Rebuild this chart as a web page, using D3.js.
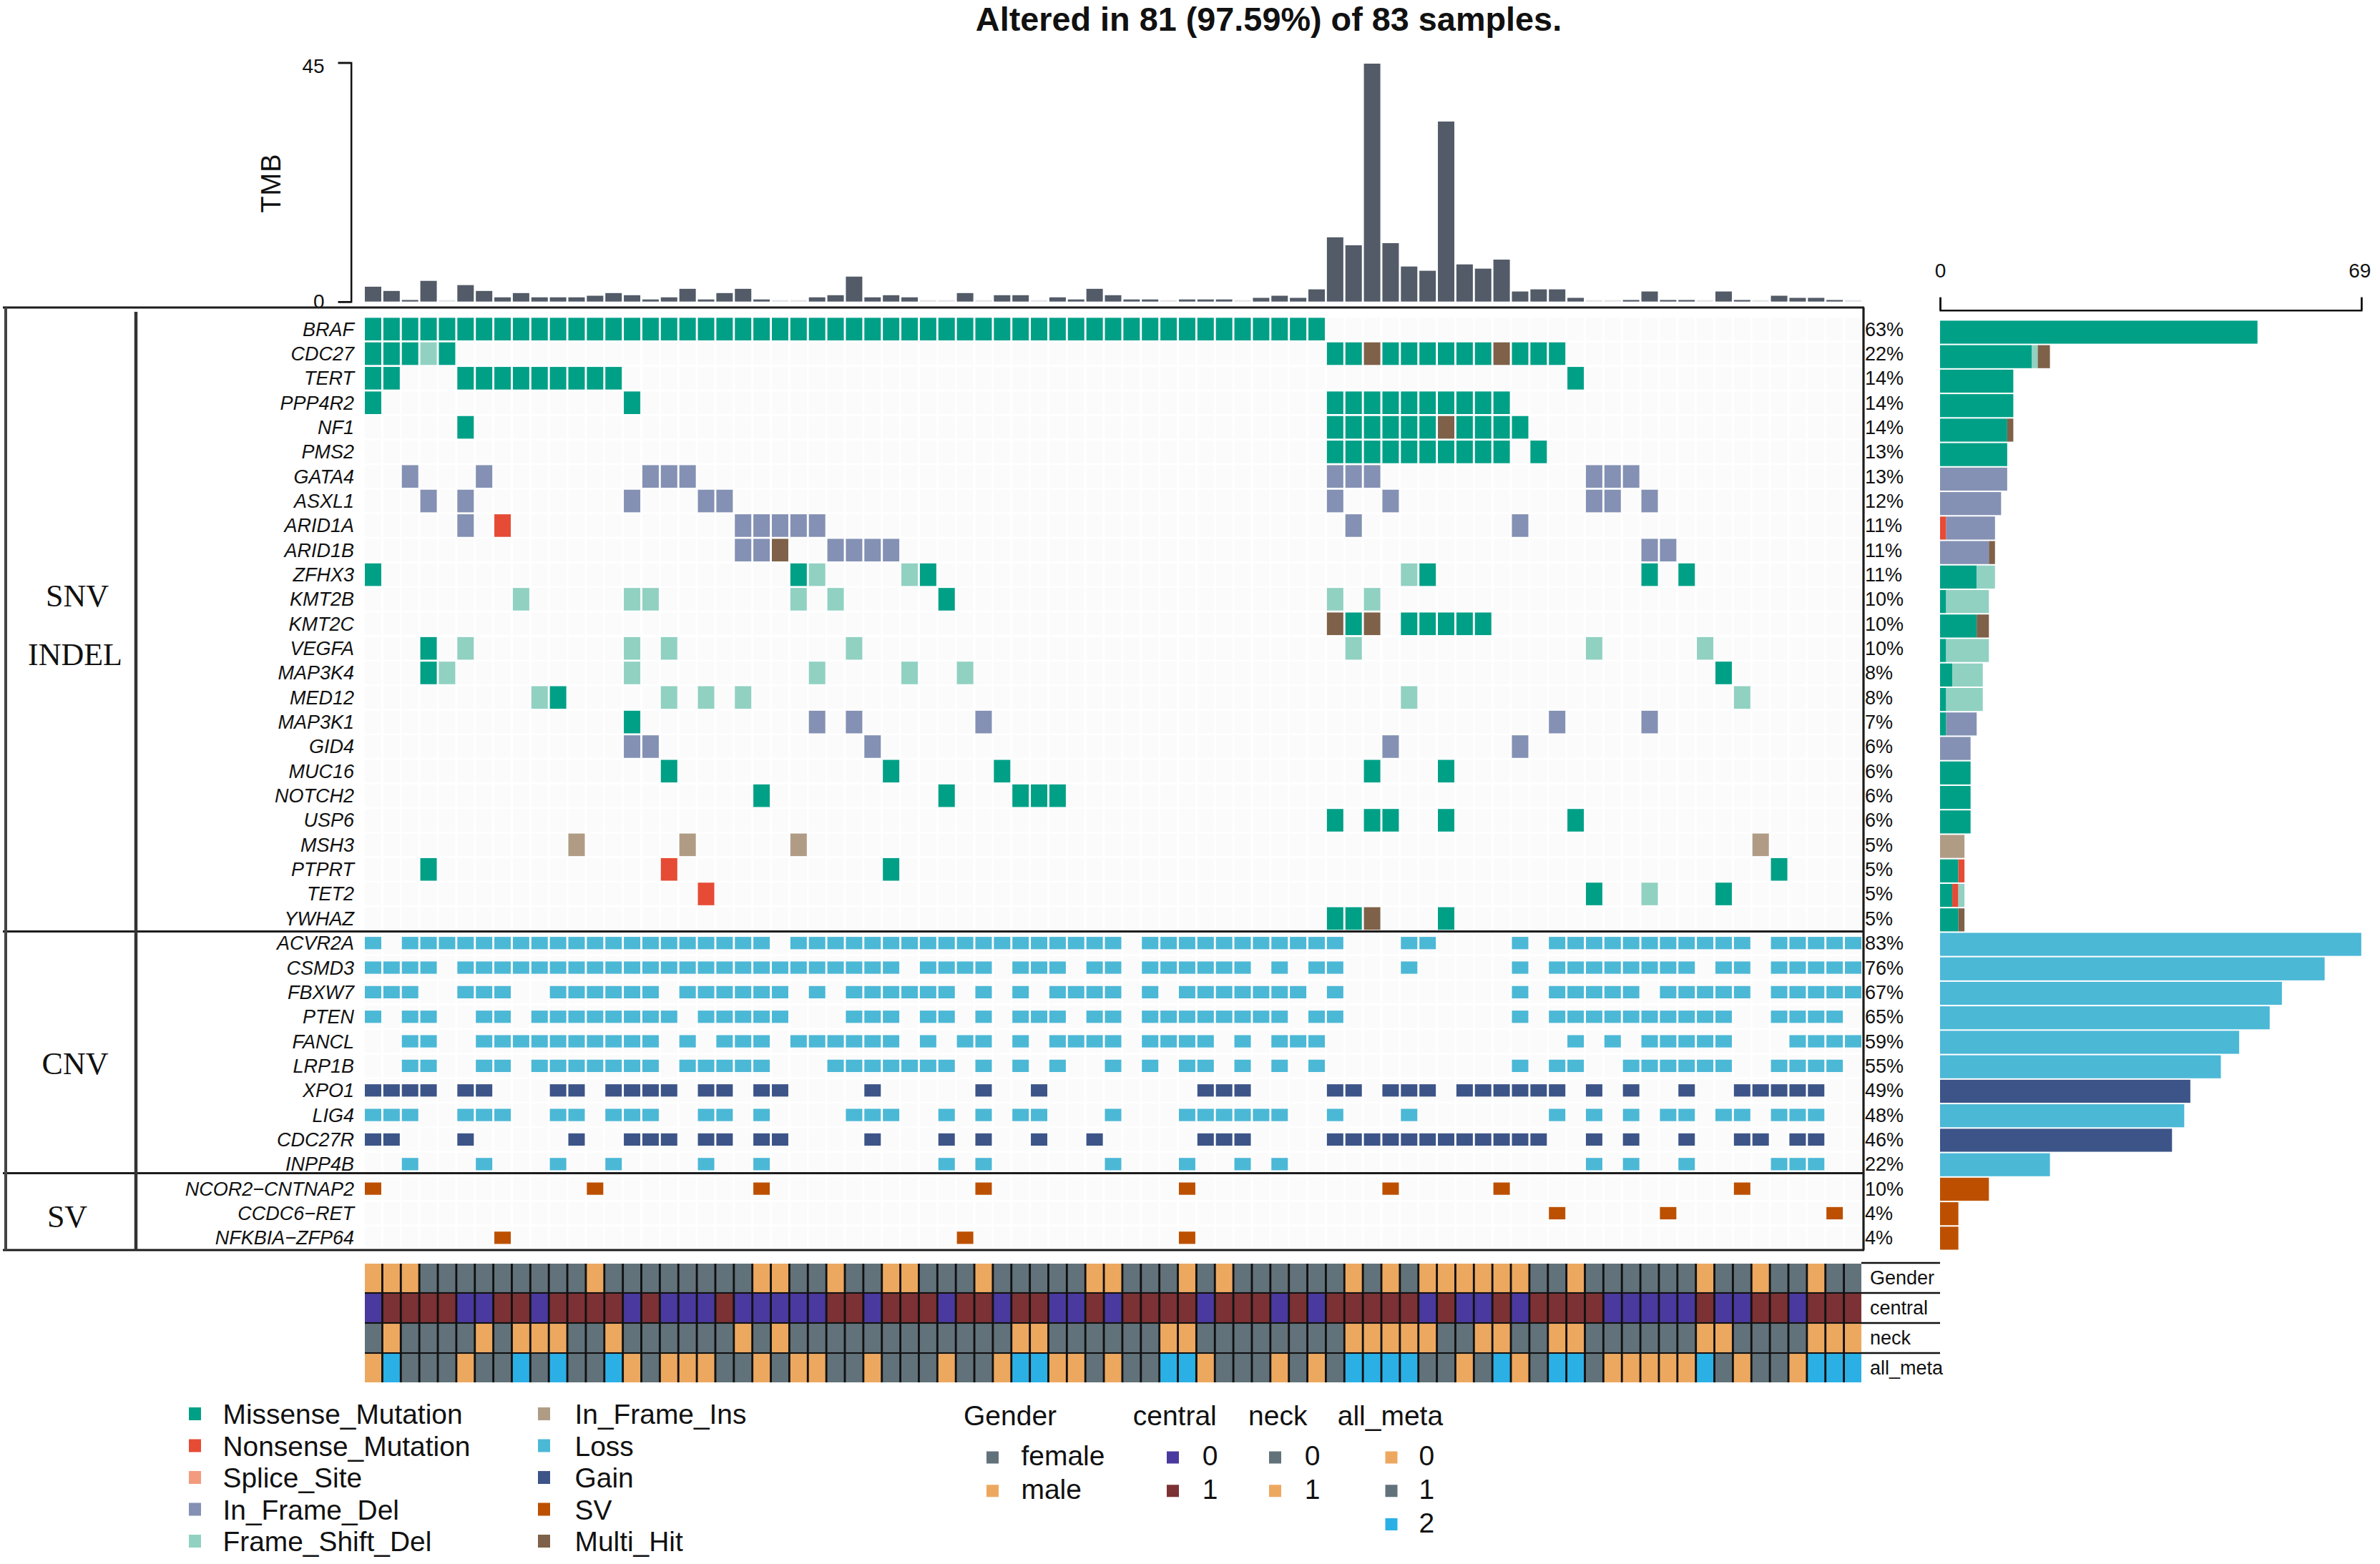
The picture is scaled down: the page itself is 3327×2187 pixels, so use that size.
<!DOCTYPE html>
<html>
<head>
<meta charset="utf-8">
<script src="https://cdn.jsdelivr.net/npm/d3@7/dist/d3.min.js"></script>
<style>
html,body{margin:0;padding:0;background:#fff}
svg{display:block}
text{font-family:"Liberation Sans",Arial,sans-serif;fill:#111}
</style>
</head>
<body>
<svg id="chart" width="3327" height="2187"></svg>
<script>
// ---------- data ----------
const title = "Altered in 81 (97.59%) of 83 samples.";
const sampleCount = 81;
const genes = ["BRAF","CDC27","TERT","PPP4R2","NF1","PMS2","GATA4","ASXL1","ARID1A","ARID1B","ZFHX3","KMT2B","KMT2C","VEGFA","MAP3K4","MED12","MAP3K1","GID4","MUC16","NOTCH2","USP6","MSH3","PTPRT","TET2","YWHAZ","ACVR2A","CSMD3","FBXW7","PTEN","FANCL","LRP1B","XPO1","LIG4","CDC27R","INPP4B","NCOR2\u2212CNTNAP2","CCDC6\u2212RET","NFKBIA\u2212ZFP64"];
const genePct = [63,22,14,14,14,13,13,12,11,11,11,10,10,10,8,8,7,6,6,6,6,5,5,5,5,83,76,67,65,59,55,49,48,46,22,10,4,4];
// one entry per gene: variant code followed by the sample columns that carry it
const geneCalls = [
 "M 0-51",
 "M 0-2 4 52 53 55-60 62-64; F 3; H 54 61",
 "M 0 1 5-13 65",
 "M 0 14 52-61",
 "M 5 52-57 59-62; H 58",
 "M 52-61 63",
 "D 2 6 15 16 17 52 53 54 66 67 68",
 "D 3 5 14 18 19 52 55 66 67 69",
 "N 7; D 5 20-24 53 62",
 "D 20 21 25-28 69 70; H 22",
 "M 0 23 30 57 69 71; F 24 29 56",
 "M 31; F 8 14 15 23 25 52 54",
 "M 53 56-60; H 52 54",
 "M 3; F 5 14 16 26 53 66 72",
 "M 3 73; F 4 14 24 29 32",
 "M 10; F 9 16 18 20 56 74",
 "M 14; D 24 26 33 64 69",
 "D 14 15 27 55 62",
 "M 16 28 34 54 58",
 "M 21 31 35 36 37",
 "M 52 54 55 58 65",
 "I 11 17 23 75",
 "M 3 28 76; N 16",
 "M 66 73; N 18; F 69",
 "M 52 53 58; H 54",
 "L 0 2-21 23-40 42-52 56 57 62 64-74 76-80",
 "L 0-3 5-28 30-33 35 36 37 39 40 42-47 49 51 52 56 62 64-71 73 74 76-80",
 "L 0 1 2 5 6 7 10-15 17-22 24 26-31 33 35 37-40 42 44-50 52 62 64-68 70-74 76-80",
 "L 0 2 3 6 7 9-16 18-22 26 27 28 30 31 33 35 36 37 39 40 42-49 51 52 62 64-73 76-79",
 "L 2 3 6-15 17 19 20 21 23-28 30 32 33 35 37-40 42-45 47 49 50 51 65 67 69-73 77-80",
 "L 2 3 6 7 9-15 17-21 25-31 33 35 37 40 42 44 45 47 49 51 62 64 65 68-73 76-79",
 "G 0-3 5 6 10 11 13-16 18 19 21 22 27 33 36 45 46 47 52 53 55 56 57 59-64 66 68 71 74-78",
 "L 0 1 2 5 6 7 10 11 13 14 15 18 19 21 26 27 28 31 33 35 36 40 44-49 52 56 64 66 68 70 71 73 74 76 77 78",
 "G 0 1 5 11 14 15 16 18 19 21 22 27 31 33 36 39 45 46 47 52-63 66 68 71 74 75 77 78",
 "L 2 6 10 13 18 21 31 33 40 44 47 49 66 68 71 76 77 78",
 "S 0 12 21 33 44 55 61 74",
 "S 64 70 79",
 "S 7 32 44"
];
const snvGeneCount = 25;
const tmbTicks = [0,45];
const tmbValues = [2.8,2.0,0.3,3.9,0,3.1,2.0,0.8,1.6,0.8,0.8,0.8,1.1,1.6,1.2,0.4,0.8,2.4,0.4,1.6,2.4,0.4,0,0,0.8,1.2,4.7,0.8,1.2,0.8,0,0,1.6,0,1.2,1.2,0,0.8,0.4,2.4,1.2,0.4,0.4,0,0.4,0.4,0.4,0,0.7,1.1,0.7,2.3,12.1,10.6,44.8,11,6.6,5.8,33.9,7,6.2,7.9,1.9,2.3,2.3,0.7,0,0,0.3,1.9,0.3,0.3,0,1.9,0.3,0,1.1,0.7,0.7,0.3,0];
const countTicks = [0,69];
const variantCodes = ["M","N","P","D","F","I","L","G","S","H"];
const variantNames = ["Missense_Mutation","Nonsense_Mutation","Splice_Site","In_Frame_Del","Frame_Shift_Del","In_Frame_Ins","Loss","Gain","SV","Multi_Hit"];
const variantColors = ["#00A087","#E64B35","#F39B7F","#8491B4","#91D1C2","#B09C85","#4BB8D6","#3C5488","#BC5000","#7E6148"];
const trackNames = ["Gender","central","neck","all_meta"];
const genderMale = "0-2 12 21 22 25 28 29 33 39 40 44 46 53 55 57-62 65 72 75 78";
const centralZero = "0 5 6 9 14 16 17 18 20-24 27 31 34 37 38 40 45 49 51 57 59 60 62 67-71 73 74 77";
const neckOne = "1 6 8 9 10 13 20 22 35 36 43 44 53-57 60 61 64 65 72 73 78 79 80";
const metaZero = "0 5 14 16 17 18 21 23 24 27 31 34 37 38 40 45 49 51 59 62 67-71 74 77";
const metaTwo = "1 8 10 13 35 36 43 44 53-56 61 64 65 72 78 79 80";
const groupNames = ["SNV","INDEL","CNV","SV"];

// ---------- colours of the annotation tracks ----------
const cGray="#62727A", cOrange="#EDA860", cBlue="#4A399F", cBrown="#7C3134", cSky="#2BB0E6";

// ---------- helpers ----------
function columns(spec){
  const out=[];
  spec.trim().split(/\s+/).forEach(tok=>{
    const m=tok.split("-");
    if(m.length===2){ d3.range(+m[0],+m[1]+1).forEach(v=>out.push(v)); }
    else out.push(+tok);
  });
  return out;
}
const calls=[];
geneCalls.forEach((line,g)=>{
  line.split(";").forEach(part=>{
    const p=part.trim(); const code=p[0];
    columns(p.slice(1)).forEach(c=>calls.push({gene:genes[g],geneIndex:g,col:c,code}));
  });
});
const countTable=genes.map(gene=>{
  const row={gene};
  variantCodes.forEach(c=>row[c]=0);
  calls.filter(d=>d.gene===gene).forEach(d=>row[d.code]++);
  return row;
});
const colorOf=d3.scaleOrdinal(variantCodes,variantColors);

const svg=d3.select("#chart");
svg.append("rect").attr("width",3327).attr("height",2187).attr("fill","#fff");

// ---------- scales ----------
const x=d3.scaleBand().domain(d3.range(sampleCount)).range([510,2602]).paddingInner(0.111);
const y=d3.scaleBand().domain(genes).range([444.4,1746.6]).paddingInner(0.08);
const tmbY=d3.scaleLinear().domain([0,45]).range([421.7,87.5]);
const barX=d3.scaleLinear().domain([0,69]).range([2712,3300.8]);
const barY=d3.scaleBand().domain(genes).range([448.4,1747.5]).paddingInner(0.06);
const trackY=d3.scaleBand().domain(trackNames).range([1767,1933]).paddingInner(0.05);
const shortCell=17.2;   // copy-number and fusion rows carry half-height marks

// ---------- title ----------
svg.append("text").attr("x",1773.5).attr("y",42.5).attr("text-anchor","middle")
  .attr("font-size",46.8).attr("font-weight","bold").text(title);

// ---------- TMB ----------
svg.append("text").attr("transform","translate(392,256) rotate(-90)").attr("text-anchor","middle")
  .attr("font-size",38).attr("letter-spacing",1).text("TMB");
svg.append("g").selectAll("rect").data(tmbValues).join("rect")
  .attr("x",(d,i)=>x(i)).attr("width",x.bandwidth())
  .attr("y",d=>d>0?tmbY(d):tmbY(0)-2).attr("height",d=>d>0?tmbY(0)-tmbY(d):2)
  .attr("fill",d=>d>0?"#535B68":"#DDDFE2");
const tmbAxis=svg.append("g").attr("transform","translate(490.7,0)")
  .call(d3.axisLeft(tmbY).tickValues(tmbTicks).tickSize(18).tickPadding(19).tickFormat(d3.format("d")));
tmbAxis.selectAll("path,line").attr("stroke","#111").attr("stroke-width",2.5);
tmbAxis.selectAll("text").attr("font-size",28).attr("font-family",'"Liberation Sans"').attr("fill","#111")
  .attr("dy",d=>d>0?"0.5em":"0.32em");

// ---------- matrix ----------
const cells=[];
genes.forEach(g=>d3.range(sampleCount).forEach(c=>cells.push({gene:g,col:c})));
svg.append("g").selectAll("rect").data(cells).join("rect")
  .attr("x",d=>x(d.col)).attr("y",d=>y(d.gene)).attr("width",x.bandwidth()).attr("height",y.bandwidth())
  .attr("fill","#FBFBFB");
const markHeight=d=>d.geneIndex<snvGeneCount?y.bandwidth():shortCell;
svg.append("g").selectAll("rect").data(calls).join("rect")
  .attr("x",d=>x(d.col)).attr("y",d=>y(d.gene)+(y.bandwidth()-markHeight(d))/2).attr("width",x.bandwidth()).attr("height",markHeight)
  .attr("fill",d=>colorOf(d.code));

// gene labels and percentages
svg.append("g").selectAll("text").data(genes).join("text")
  .attr("x",495).attr("y",d=>y(d)+y.bandwidth()/2).attr("dy","0.35em")
  .attr("text-anchor","end").attr("font-size",27).attr("font-style","italic").attr("fill","#222").text(d=>d);
svg.append("g").selectAll("text").data(genePct).join("text")
  .attr("x",2607).attr("y",(d,i)=>y(genes[i])+y.bandwidth()/2).attr("dy","0.35em")
  .attr("font-size",27).attr("fill","#222").text(d=>d+"%");

// group frames
const frame=svg.append("g").attr("stroke","#1c1c1c");
[430,1302.5,1640.5,1748].forEach(v=>frame.append("line").attr("x1",4).attr("x2",2606).attr("y1",v).attr("y2",v).attr("stroke-width",3.2));
frame.append("line").attr("x1",8).attr("x2",8).attr("y1",430).attr("y2",1748).attr("stroke-width",4).attr("stroke","#444");
frame.append("line").attr("x1",190).attr("x2",190).attr("y1",436).attr("y2",1748).attr("stroke-width",4.5).attr("stroke","#333");
frame.append("line").attr("x1",2605).attr("x2",2605).attr("y1",430).attr("y2",1748).attr("stroke-width",3.2);

const groupPos=[[108,833],[105,915],[105,1487],[94,1701]];
svg.append("g").selectAll("text").data(groupNames).join("text")
  .attr("x",(d,i)=>groupPos[i][0]).attr("y",(d,i)=>groupPos[i][1]).attr("dy","0.35em")
  .attr("text-anchor","middle").attr("font-size",44)
  .style("font-family",'"Liberation Serif",serif').attr("fill","#222").text(d=>d);

// ---------- right bars ----------
const stacked=d3.stack().keys(variantCodes)(countTable);
svg.append("g").selectAll("g").data(stacked).join("g").attr("fill",s=>colorOf(s.key))
  .selectAll("rect").data(s=>s.filter(d=>d[1]>d[0])).join("rect")
  .attr("x",d=>barX(d[0])).attr("width",d=>barX(d[1])-barX(d[0]))
  .attr("y",d=>barY(d.data.gene)).attr("height",barY.bandwidth());
const countAxis=svg.append("g").attr("transform","translate(0,433.8)")
  .call(d3.axisTop(barX).tickValues(countTicks).tickSize(18).tickPadding(28).tickFormat(d3.format("d")));
countAxis.selectAll("path,line").attr("stroke","#111").attr("stroke-width",2.5);
countAxis.selectAll("text").attr("font-size",28).attr("font-family",'"Liberation Sans"').attr("fill","#111")
  .attr("dx",d=>d>0?-2.5:0);

// ---------- annotation tracks ----------
const male=new Set(columns(genderMale)), c0=new Set(columns(centralZero)), n1=new Set(columns(neckOne)), m0=new Set(columns(metaZero)), m2=new Set(columns(metaTwo));
const trackCells=[];
d3.range(sampleCount).forEach(c=>{
  trackCells.push({t:"Gender",col:c,fill:male.has(c)?cOrange:cGray});
  trackCells.push({t:"central",col:c,fill:c0.has(c)?cBlue:cBrown});
  trackCells.push({t:"neck",col:c,fill:n1.has(c)?cOrange:cGray});
  trackCells.push({t:"all_meta",col:c,fill:m0.has(c)?cOrange:(m2.has(c)?cSky:cGray)});
});
svg.append("rect").attr("x",510).attr("y",1767).attr("width",2092).attr("height",166).attr("fill","#111");
svg.append("g").selectAll("rect").data(trackCells).join("rect")
  .attr("x",d=>x(d.col)).attr("y",d=>trackY(d.t)).attr("width",x.bandwidth()).attr("height",trackY.bandwidth())
  .attr("fill",d=>d.fill);
svg.append("g").selectAll("line").data(trackNames).join("line")
  .attr("x1",2602).attr("x2",2712).attr("y1",d=>trackY(d)-1).attr("y2",d=>trackY(d)-1)
  .attr("stroke","#111").attr("stroke-width",2.5);
svg.append("g").selectAll("text").data(trackNames).join("text")
  .attr("x",2614).attr("y",d=>trackY(d)+trackY.bandwidth()/2).attr("dy","0.35em")
  .attr("font-size",27).attr("fill","#222").text(d=>d);

// ---------- legends ----------
const legendY=d3.scalePoint().domain(d3.range(5)).range([1977,2155]);
const legendG=svg.append("g");
variantNames.forEach((name,i)=>{
  const col=i<5?0:1, row=i%5;
  legendG.append("rect").attr("x",col?752:264).attr("y",legendY(row)-9).attr("width",17).attr("height",18).attr("fill",variantColors[i]);
  legendG.append("text").attr("x",col?803.5:311.5).attr("y",legendY(row)+14).attr("font-size",38.9).text(name);
});
const annLegend=[
 {name:"Gender",tx:1347,sx:1379,lx:1427.4,items:[["female",cGray],["male",cOrange]]},
 {name:"central",tx:1583.7,sx:1631,lx:1680.7,items:[["0",cBlue],["1",cBrown]]},
 {name:"neck",tx:1745,sx:1774,lx:1823.7,items:[["0",cGray],["1",cOrange]]},
 {name:"all_meta",tx:1869.7,sx:1936.5,lx:1983.6,items:[["0",cOrange],["1",cGray],["2",cSky]]}
];
const annY=d3.scalePoint().domain([0,1,2]).range([2038,2131.5]);
annLegend.forEach(g=>{
  legendG.append("text").attr("x",g.tx).attr("y",1993).attr("font-size",39).text(g.name);
  g.items.forEach((it,i)=>{
    legendG.append("rect").attr("x",g.sx).attr("y",annY(i)-8.5).attr("width",17).attr("height",17).attr("fill",it[1]);
    legendG.append("text").attr("x",g.lx).attr("y",annY(i)+11).attr("font-size",39).text(it[0]);
  });
});
</script>
</body>
</html>
